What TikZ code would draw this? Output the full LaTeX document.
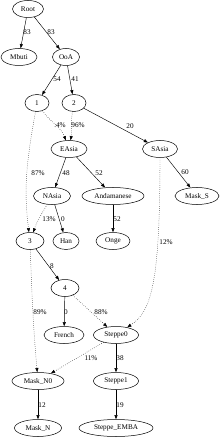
\documentclass[tikz,border=0pt]{standalone}
\usepackage{fontspec}
\setmainfont{Liberation Serif}
\usetikzlibrary{shapes.geometric,arrows.meta}
\begin{document}
\begin{tikzpicture}[x=1pt,y=-1pt,
  nd/.style={ellipse,draw,line width=0.5pt,inner sep=0pt,minimum height=17pt,font=\fontsize{7.2}{8}\selectfont},
  lbl/.style={inner sep=0pt,font=\fontsize{7.2}{8}\selectfont},
  ed/.style={line width=0.45pt,-{Triangle[length=4.2pt,width=3.1pt]}},
  dt/.style={ed,dash pattern=on 0.5pt off 1.6pt}]
\useasboundingbox (0,0) rectangle (220,438);
% nodes
\node[nd,minimum width=31pt] (Root) at (28,9) {Root};
\node[nd,minimum width=36pt] (Mbuti) at (19,57) {Mbuti};
\node[nd,minimum width=27pt] (OoA) at (66,57) {OoA};
\node[nd,minimum width=24pt] (n1) at (37,103) {1};
\node[nd,minimum width=24pt] (n2) at (74,103) {2};
\node[nd,minimum width=36pt] (EAsia) at (69,149) {EAsia};
\node[nd,minimum width=35pt] (SAsia) at (160,149) {SAsia};
\node[nd,minimum width=37pt] (NAsia) at (52,196) {NAsia};
\node[nd,minimum width=62pt] (Andamanese) at (113,196) {Andamanese};
\node[nd,minimum width=44pt] (MaskS) at (197,196) {Mask\_S};
\node[nd,minimum width=28pt] (n3) at (30,241) {3};
\node[nd,minimum width=26pt] (Han) at (66,241) {Han};
\node[nd,minimum width=34pt] (Onge) at (113,241) {Onge};
\node[nd,minimum width=28pt] (n4) at (65,288) {4};
\node[nd,minimum width=40pt] (French) at (64,335) {French};
\node[nd,minimum width=45pt] (Steppe0) at (116,335) {Steppe0};
\node[nd,minimum width=52pt] (MaskN0) at (38,381) {Mask\_N0};
\node[nd,minimum width=45pt] (Steppe1) at (116,381) {Steppe1};
\node[nd,minimum width=47pt] (MaskN) at (38,428) {Mask\_N};
\node[nd,minimum width=74pt] (SteppeEMBA) at (116,428) {Steppe\_EMBA};
% edges
\draw[ed] (Root) -- (Mbuti);
\draw[ed] (Root) -- (OoA);
\draw[ed] (OoA) -- (n1);
\draw[ed] (OoA) -- (n2);
\draw[dt] (n1) to[out=-55,in=110] (EAsia);
\draw[dt] (n2) to[out=-100,in=80] (EAsia);
\draw[ed] (n2) -- (SAsia);
\draw[dt] (n1) to[out=-100,in=97] (n3);
\draw[ed] (EAsia) -- (NAsia);
\draw[ed] (EAsia) -- (Andamanese);
\draw[ed] (SAsia) -- (MaskS);
\draw[dt] (SAsia) .. controls (160,290) and (150,312) .. (Steppe0);
\draw[dt] (NAsia) to[out=-120,in=70] (n3);
\draw[ed] (NAsia) -- (Han);
\draw[ed] (Andamanese) -- (Onge);
\draw[ed] (n3) -- (n4);
\draw[dt] (n3) to[out=-88,in=95] (MaskN0);
\draw[ed] (n4) -- (French);
\draw[dt] (n4) -- (Steppe0);
\draw[dt] (Steppe0) -- (MaskN0);
\draw[ed] (Steppe0) -- (Steppe1);
\draw[ed] (MaskN0) -- (MaskN);
\draw[ed] (Steppe1) -- (SteppeEMBA);
% edge labels
\node[lbl] (l1) at (27,32) {83};
\node[lbl] (l2) at (51,32) {83};
\node[lbl] (l3) at (57,79) {54};
\node[lbl] (l4) at (75,79) {41};
\node[lbl] (l5) at (60,125) {.4\%};
\node[lbl] (l6) at (78,125) {96\%};
\node[lbl] (l7) at (130,126) {20};
\node[lbl] (l8) at (38,173) {87\%};
\node[lbl] (l9) at (66,173) {48};
\node[lbl] (l10) at (99,173) {52};
\node[lbl] (l11) at (185,172) {60};
\node[lbl] (l12) at (49,219) {13\%};
\node[lbl] (l13) at (63,219) {0};
\node[lbl] (l14) at (117,219) {52};
\node[lbl] (l15) at (166,242) {12\%};
\node[lbl] (l16) at (52,266) {8};
\node[lbl] (l17) at (40,312) {89\%};
\node[lbl] (l18) at (66,312) {0};
\node[lbl] (l19) at (101,312) {88\%};
\node[lbl] (l20) at (91,358) {11\%};
\node[lbl] (l21) at (120,358) {38};
\node[lbl] (l22) at (42,405) {12};
\node[lbl] (l23) at (120,405) {19};
\end{tikzpicture}
\end{document}
